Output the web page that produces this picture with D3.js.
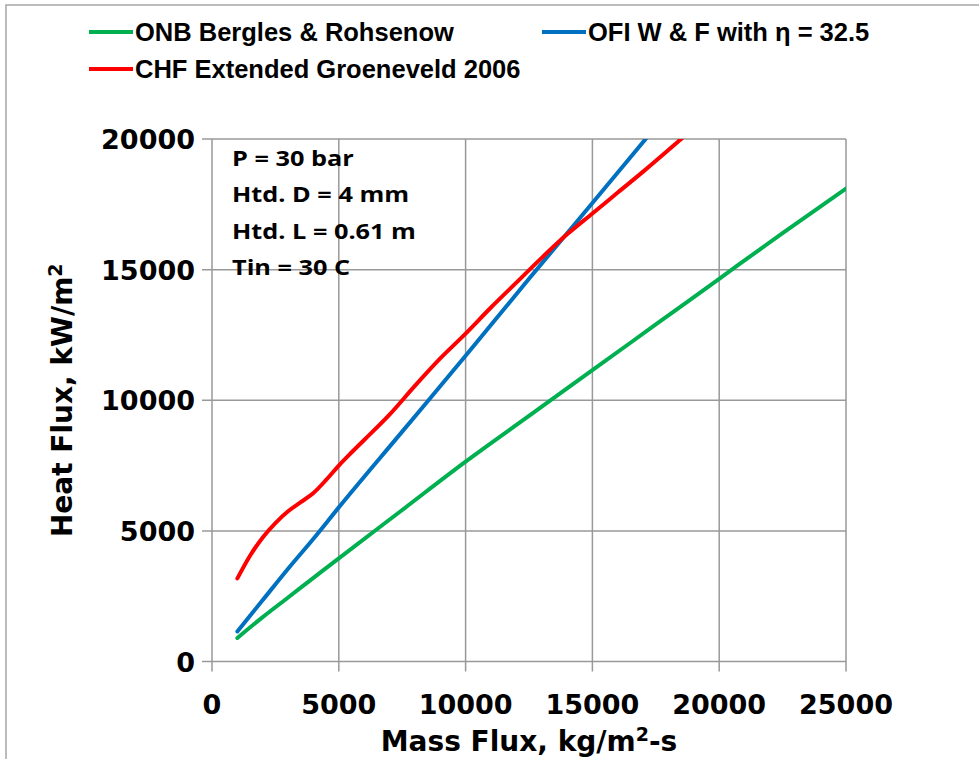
<!DOCTYPE html>
<html>
  <head>
    <meta charset="utf-8">
    <title>Heat flux vs mass flux</title>
    <style>
      body { margin: 0; background: #fff; }
      text { font-family: "Liberation Sans", Arial, sans-serif; font-weight: bold; fill: #000; }
      .tick, .title { font-family: "DejaVu Sans", sans-serif; }
      .note { font-family: "Open Sans", Lato, sans-serif; }
    </style>
  </head>
  <body>
    <svg class='graph'></svg>
    <script type="text/javascript" src="https://d3js.org/d3.v7.min.js"></script>
    <script type="text/javascript">

// values (mass flux kg/m2-s, heat flux kW/m2)
var onbG = [1000, 2000, 3000, 4000, 5000, 7500, 10000, 12500, 15000, 17500, 20000, 22500, 25000]
var onbQ = [900, 1700, 2450, 3200, 3950, 5800, 7650, 9400, 11150, 12900, 14650, 16400, 18100]

var ofiG = [1000, 2000, 3000, 4000, 5000, 7500, 10000, 12500, 15000, 17100, 17500]
var ofiQ = [1150, 2350, 3550, 4700, 5900, 8800, 11700, 14650, 17550, 20000, 20470]

var chfG = [1000, 1500, 2000, 2500, 3000, 3500, 4000, 4500, 5000, 5500, 6000, 7000, 8000, 9000, 10000, 11000, 12000, 13000, 14000, 15000, 16000, 17000, 18500, 19000]
var chfQ = [3180, 4050, 4750, 5300, 5750, 6100, 6450, 6950, 7500, 8000, 8480, 9450, 10550, 11600, 12550, 13550, 14500, 15450, 16350, 17150, 17950, 18750, 20000, 20420]

var seriesNames = ["ONB Bergles & Rohsenow", "OFI W & F with \u03b7 = 32.5", "CHF Extended Groeneveld 2006"]
var seriesColors = ["#00b050", "#0070c0", "#ff0000"]

var xTicks = [0, 5000, 10000, 15000, 20000, 25000]
var yTicks = [0, 5000, 10000, 15000, 20000]

var notes = ["P = 30 bar", "Htd. D = 4 mm", "Htd. L = 0.61 m", "Tin = 30 C"]

var width = 979
var height = 759
// plot box (don't call it "top", that's window.top)
var pLeft = 212, pRight = 846, pTop = 139, pBottom = 661.5

var svg = d3.select(".graph")
    .attr("width", width)
    .attr("height", height)

// outer frame
svg.append("path")
    .attr("d", "M6,759V5H979")
    .attr("fill", "none")
    .attr("stroke", "#a6a6a6")
    .attr("stroke-width", 1.5)

var x = d3.scaleLinear().domain([0, 25000]).range([pLeft, pRight])
var y = d3.scaleLinear().domain([0, 20000]).range([pBottom, pTop])

// grid
svg.append("g").selectAll("line")
    .data(xTicks)
    .enter().append("line")
    .attr("x1", function(d) { return x(d) })
    .attr("x2", function(d) { return x(d) })
    .attr("y1", pTop)
    .attr("y2", pBottom + 10)
    .attr("stroke", "#999")
    .attr("stroke-width", 1.5)

svg.append("g").selectAll("line")
    .data(yTicks)
    .enter().append("line")
    .attr("x1", pLeft - 10)
    .attr("x2", pRight)
    .attr("y1", function(d) { return y(d) })
    .attr("y2", function(d) { return y(d) })
    .attr("stroke", "#999")
    .attr("stroke-width", 1.5)

// tick labels
svg.append("g").selectAll("text")
    .data(xTicks)
    .enter().append("text")
    .attr("class", "tick")
    .attr("x", function(d) { return x(d) })
    .attr("y", 714)
    .attr("text-anchor", "middle")
    .style("font-size", "27px")
    .text(function(d) { return d })

svg.append("g").selectAll("text")
    .data(yTicks)
    .enter().append("text")
    .attr("class", "tick")
    .attr("x", 195)
    .attr("y", function(d) { return y(d) + 10 })
    .attr("text-anchor", "end")
    .style("font-size", "27px")
    .text(function(d) { return d })

// axis titles
var xt = svg.append("text")
    .attr("class", "title")
    .attr("x", (pLeft + pRight) / 2)
    .attr("y", 751)
    .attr("text-anchor", "middle")
    .style("font-size", "28px")
xt.append("tspan").text("Mass Flux, kg/m")
xt.append("tspan").attr("dy", -10).style("font-size", "19px").text("2")
xt.append("tspan").attr("dy", 10).text("-s")

var yt = svg.append("text")
    .attr("class", "title")
    .attr("transform", "translate(72," + (pTop + pBottom) / 2 + ")rotate(-90)")
    .attr("text-anchor", "middle")
    .style("font-size", "28px")
yt.append("tspan").text("Heat Flux,  kW/m")
yt.append("tspan").attr("dy", -10).style("font-size", "19px").text("2")

// curves
svg.append("clipPath").attr("id", "plot")
    .append("rect")
    .attr("x", pLeft).attr("y", pTop)
    .attr("width", pRight - pLeft).attr("height", pBottom - pTop)

var line = d3.line()
    .x(function(d) { return x(d[0]) })
    .y(function(d) { return y(d[1]) })
    .curve(d3.curveMonotoneX)

var series = [d3.zip(onbG, onbQ), d3.zip(ofiG, ofiQ), d3.zip(chfG, chfQ)]

svg.append("g").attr("clip-path", "url(#plot)")
    .selectAll("path")
    .data(series)
    .enter().append("path")
    .attr("d", line)
    .attr("fill", "none")
    .attr("stroke", function(d, i) { return seriesColors[i] })
    .attr("stroke-width", 4)
    .attr("stroke-linecap", "round")

// notes in the plot, stretched a bit like the original
svg.append("g")
    .attr("transform", "translate(232,0) scale(1.15,1)")
    .selectAll("text")
    .data(notes)
    .enter().append("text")
    .attr("class", "note")
    .attr("x", 0)
    .attr("y", function(d, i) { return 166 + i * 36.5 })
    .style("font-size", "22px")
    .text(function(d) { return d })

// legend
var legendPos = [[89, 32], [542, 32], [89, 69]]
var legend = svg.append("g").selectAll("g")
    .data(seriesNames)
    .enter().append("g")
    .attr("transform", function(d, i) { return "translate(" + legendPos[i][0] + "," + legendPos[i][1] + ")" })

legend.append("line")
    .attr("x1", 0).attr("x2", 44)
    .attr("stroke", function(d, i) { return seriesColors[i] })
    .attr("stroke-width", 4)

legend.append("text")
    .attr("x", 46)
    .attr("y", 9)
    .style("font-size", "25.5px")
    .text(function(d) { return d })

    </script>
  </body>
</html>
